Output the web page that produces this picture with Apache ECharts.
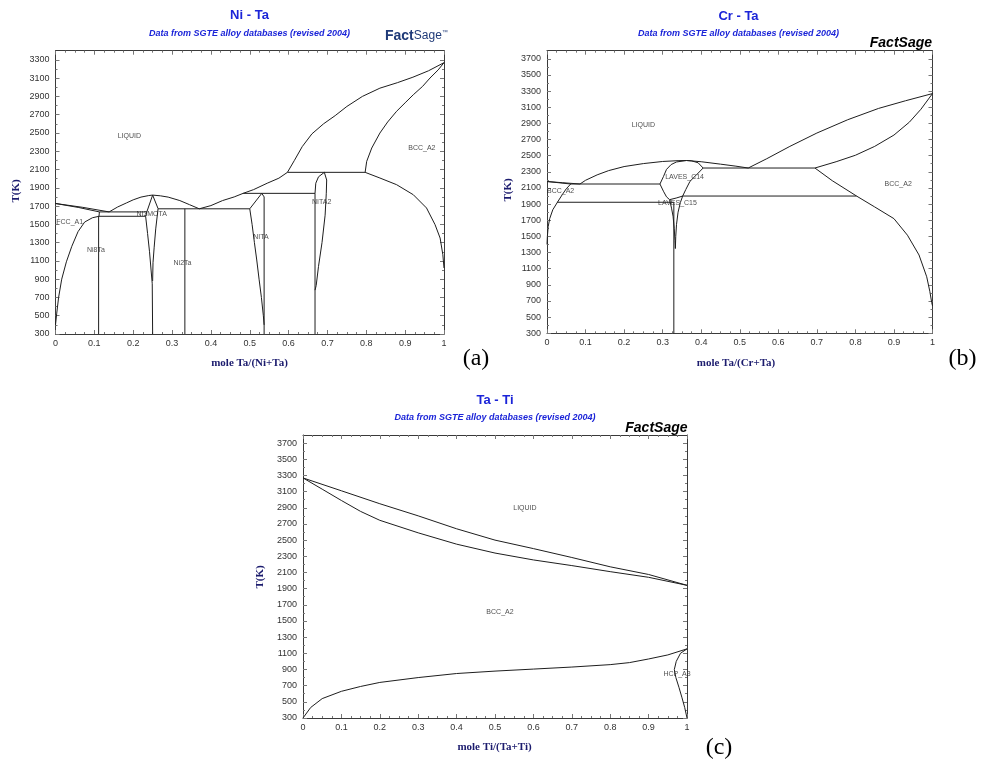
<!DOCTYPE html>
<html>
<head>
<meta charset="utf-8">
<script src="https://cdn.jsdelivr.net/npm/echarts@6/dist/echarts.min.js"></script>
<style>
  html, body { margin: 0; padding: 0; background: #fff; }
  #chart { width: 986px; height: 765px; }
</style>
</head>
<body>
<div id="chart"></div>
<script>
// ===== Ni – Ta phase boundaries: [mole fraction Ta, T(K)] =====
const niTaLiqNi      = [[0,1728],[0.07,1686],[0.138,1636]];
const niTaSolNi      = [[0,1728],[0.06,1684],[0.113,1636]];
const niTaFccSolvus  = [[0.113,1636],[0.112,1588],[0.095,1572],[0.075,1525],[0.058,1420],[0.042,1260],[0.028,1090],[0.016,900],[0.008,700],[0.003,520],[0,400]];
const niTaEutectic1  = [[0.113,1636],[0.235,1636]];
const niTaPeritectoid= [[0.111,1588],[0.232,1588]];
const niTaNi8Ta      = [[0.111,1588],[0.111,300]];
const niTaLiq2       = [[0.138,1636],[0.16,1690],[0.183,1735],[0.2,1768],[0.22,1798],[0.24,1815],[0.25,1820]];
const niTaLiq3       = [[0.25,1820],[0.27,1812],[0.29,1798],[0.32,1760],[0.345,1715],[0.37,1670]];
const niTaNi3TaLeft  = [[0.25,1820],[0.235,1636],[0.232,1588],[0.237,1400],[0.242,1200],[0.246,1000],[0.249,850]];
const niTaNi3TaRight = [[0.25,1820],[0.264,1672],[0.258,1450],[0.254,1250],[0.251,1080],[0.25,880]];
const niTaNi3TaLine  = [[0.249,850],[0.25,300]];
const niTaEutectic2  = [[0.264,1670],[0.50,1670]];
const niTaNi2Ta      = [[0.333,1670],[0.333,300]];
const niTaLiq4       = [[0.37,1670],[0.40,1705],[0.43,1760],[0.46,1800],[0.483,1839],[0.51,1880],[0.545,1950],[0.575,2005],[0.597,2069]];
const niTaNiTaLeft   = [[0.531,1839],[0.50,1670],[0.506,1500],[0.512,1300],[0.518,1110],[0.524,900],[0.530,700],[0.535,500],[0.537,400]];
const niTaNiTaRight  = [[0.531,1839],[0.537,1800],[0.537,300]];
const niTaPeritectic2= [[0.483,1839],[0.668,1839]];
const niTaNiTa2Left  = [[0.692,2069],[0.677,2020],[0.670,1950],[0.668,1839],[0.668,300]];
const niTaNiTa2Right = [[0.692,2069],[0.698,1985],[0.697,1840],[0.694,1600],[0.686,1300],[0.677,1040],[0.671,830],[0.668,780]];
const niTaPeritectic3= [[0.597,2069],[0.797,2069]];
const niTaLiqTa      = [[0.597,2069],[0.615,2200],[0.635,2350],[0.66,2490],[0.69,2600],[0.72,2690],[0.75,2790],[0.79,2900],[0.835,2990],[0.88,3050],[0.92,3110],[0.96,3180],[1,3269]];
const niTaSolTa      = [[0.797,2069],[0.801,2189],[0.814,2335],[0.835,2499],[0.855,2620],[0.878,2737],[0.9,2830],[0.921,2918],[0.945,3010],[0.964,3101],[0.985,3190],[1,3269]];
const niTaSolvusTa   = [[0.797,2069],[0.835,2007],[0.878,1934],[0.921,1824],[0.955,1679],[0.977,1496],[0.99,1350],[0.997,1168],[1,1022]];
const niTaLabels     = [[0.19,2466,'LIQUID'],[0.943,2332,'BCC_A2'],[0.104,1219,'Ni8Ta'],[0.2476,1613,'NI3MOTA'],[0.327,1073,'Ni2Ta'],[0.529,1358,'NITA'],[0.685,1741,'NITA2']];
const niTaEdgeLabels = [[0.002,1522,'FCC_A1']];

// ===== Cr – Ta phase boundaries: [mole fraction Ta, T(K)] =====
const crTaLiqCr      = [[0,2180],[0.04,2165],[0.0856,2149]];
const crTaSolCr      = [[0,2180],[0.03,2165],[0.0615,2149]];
const crTaSolvusCr   = [[0.0615,2149],[0.05,2090],[0.04,2020],[0.027,1923],[0.015,1830],[0.007,1720],[0.003,1620],[0.001,1500],[0,1400]];
const crTaEutectic1  = [[0.0615,2149],[0.293,2149]];
const crTaEutectoid  = [[0.026,1923],[0.329,1923]];
const crTaLiq1       = [[0.0856,2149],[0.10,2195],[0.13,2262],[0.16,2315],[0.2,2365],[0.25,2402],[0.3,2428],[0.34,2438],[0.362,2440],[0.40,2425],[0.45,2395],[0.49,2370],[0.522,2347]];
const crTaC14Left    = [[0.362,2440],[0.336,2422],[0.322,2390],[0.31,2330],[0.302,2240],[0.293,2149]];
const crTaC14Right   = [[0.362,2440],[0.375,2436],[0.392,2412],[0.405,2347]];
const crTaC14LowLeft = [[0.293,2149],[0.302,2060],[0.31,1990],[0.318,1955]];
const crTaC14LowRight= [[0.405,2347],[0.388,2264],[0.371,2183],[0.36,2080],[0.352,2000]];
const crTaC14C15     = [[0.318,1955],[0.335,1975],[0.352,2000]];
const crTaC15Left    = [[0.318,1955],[0.323,1850],[0.327,1750],[0.33,1600],[0.332,1450],[0.333,1350]];
const crTaC15Right   = [[0.352,2000],[0.346,1920],[0.34,1800],[0.336,1650],[0.334,1500],[0.333,1350]];
const crTaC15Line    = [[0.329,1923],[0.329,300]];
const crTaPeritectic = [[0.405,2347],[0.695,2347]];
const crTaEutectic2  = [[0.352,2000],[0.803,2000]];
const crTaLiqTa      = [[0.522,2347],[0.57,2462],[0.63,2615],[0.7,2780],[0.78,2945],[0.86,3085],[0.93,3180],[1,3269]];
const crTaSolTa      = [[0.695,2347],[0.75,2425],[0.8,2505],[0.85,2615],[0.9,2755],[0.94,2915],[0.97,3075],[1,3269]];
const crTaSolvusTa   = [[0.695,2347],[0.74,2190],[0.803,2000],[0.85,1865],[0.9,1720],[0.935,1515],[0.965,1270],[0.985,1000],[0.993,820],[0.998,680],[1,640]];
const crTaLabels     = [[0.25,2876,'LIQUID'],[0.911,2149,'BCC_A2'],[0.357,2235,'LAVES_C14'],[0.3385,1908,'LAVES_C15']];
const crTaEdgeLabels = [[0,2066,'BCC_A2']];

// ===== Ta – Ti phase boundaries: [mole fraction Ti, T(K)] =====
const taTiLiquidus   = [[0,3269],[0.1,3110],[0.2,2950],[0.3,2800],[0.4,2640],[0.5,2500],[0.6,2395],[0.7,2285],[0.8,2170],[0.9,2075],[1,1941]];
const taTiSolidus    = [[0,3269],[0.05,3130],[0.1,2990],[0.15,2855],[0.2,2745],[0.3,2590],[0.4,2450],[0.5,2340],[0.6,2255],[0.7,2185],[0.8,2110],[0.9,2040],[1,1941]];
const taTiTransus    = [[0,300],[0.02,430],[0.05,540],[0.1,630],[0.15,690],[0.2,740],[0.3,800],[0.4,850],[0.5,880],[0.6,905],[0.7,930],[0.8,960],[0.85,985],[0.9,1030],[0.95,1080],[1,1155]];
const taTiHcp        = [[1,1155],[0.983,1100],[0.972,1000],[0.967,900],[0.971,800],[0.979,680],[0.987,550],[0.994,430],[1,300]];
const taTiLabels     = [[0.578,2902,'LIQUID'],[0.513,1607,'BCC_A2'],[0.974,845,'HCP_A3']];

// Axis ranges and tick values
const xTickValues = [0,1,2,3,4,5,6,7,8,9,10].map(i => i / 10);
const xMinorValues = Array.from({length: 41}, (_, i) => i / 40).filter((_, i) => i % 4 !== 0);
function range(a, b, step) { const r = []; for (let v = a; v <= b; v += step) r.push(v); return r; }

const panels = [
  { grid: {left: 55.5, top: 50.7, width: 388.5, height: 283.3}, yMin: 300, yMax: 3400,
    yMajor: range(300, 3300, 200), yMinor: range(400, 3200, 200),
    curves: [niTaLiqNi, niTaSolNi, niTaFccSolvus, niTaEutectic1, niTaPeritectoid, niTaNi8Ta, niTaLiq2, niTaLiq3,
             niTaNi3TaLeft, niTaNi3TaRight, niTaNi3TaLine, niTaEutectic2, niTaNi2Ta, niTaLiq4, niTaNiTaLeft,
             niTaNiTaRight, niTaPeritectic2, niTaNiTa2Left, niTaNiTa2Right, niTaPeritectic3, niTaLiqTa, niTaSolTa, niTaSolvusTa],
    labels: niTaLabels, edgeLabels: niTaEdgeLabels },
  { grid: {left: 547, top: 50.7, width: 385.5, height: 282.6}, yMin: 300, yMax: 3800,
    yMajor: range(300, 3700, 200), yMinor: range(400, 3600, 200),
    curves: [crTaLiqCr, crTaSolCr, crTaSolvusCr, crTaEutectic1, crTaEutectoid, crTaLiq1, crTaC14Left, crTaC14Right,
             crTaC14LowLeft, crTaC14LowRight, crTaC14C15, crTaC15Left, crTaC15Right, crTaC15Line, crTaPeritectic,
             crTaEutectic2, crTaLiqTa, crTaSolTa, crTaSolvusTa],
    labels: crTaLabels, edgeLabels: crTaEdgeLabels },
  { grid: {left: 303, top: 435, width: 384, height: 283}, yMin: 300, yMax: 3800,
    yMajor: range(300, 3700, 200), yMinor: range(400, 3600, 200),
    curves: [taTiLiquidus, taTiSolidus, taTiTransus, taTiHcp],
    labels: taTiLabels, edgeLabels: [] }
];

const SANS = 'Liberation Sans';
const SERIF = 'Liberation Serif';
const frameColor = '#3a3a3a';
const tickColor = '#777';

const grids = [], xAxes = [], yAxes = [], series = [];

panels.forEach((p, gi) => {
  grids.push(Object.assign({containLabel: false}, p.grid));
  const xBase = {gridIndex: gi, type: 'value', min: 0, max: 1, splitLine: {show: false}};
  const yBase = {gridIndex: gi, type: 'value', min: p.yMin, max: p.yMax, splitLine: {show: false}};
  const tickLabel = {fontSize: 9, color: '#333', fontFamily: SANS};
  // four x axes: bottom major (data axis), bottom minor, top major, top minor
  ['bottom', 'top'].forEach(pos => {
    xAxes.push(Object.assign({}, xBase, {
      position: pos,
      axisLine: {show: true, onZero: false, lineStyle: {color: frameColor, width: 1}},
      axisTick: {show: true, inside: true, length: 4, customValues: xTickValues, lineStyle: {color: tickColor}},
      axisLabel: Object.assign({show: pos === 'bottom', margin: 5, customValues: xTickValues,
        formatter: v => String(Math.round(v * 10) / 10)}, tickLabel)
    }));
    xAxes.push(Object.assign({}, xBase, {
      position: pos,
      axisLine: {show: false, onZero: false},
      axisTick: {show: true, inside: true, length: 2, customValues: xMinorValues, lineStyle: {color: tickColor}},
      axisLabel: {show: false}
    }));
  });
  // four y axes: left major (data axis), left minor, right major, right minor
  ['left', 'right'].forEach(pos => {
    yAxes.push(Object.assign({}, yBase, {
      position: pos,
      axisLine: {show: true, onZero: false, lineStyle: {color: frameColor, width: 1}},
      axisTick: {show: true, inside: true, length: 4, customValues: p.yMajor, lineStyle: {color: tickColor}},
      axisLabel: Object.assign({show: pos === 'left', margin: 6, customValues: p.yMajor,
        formatter: v => String(Math.round(v))}, tickLabel)
    }));
    yAxes.push(Object.assign({}, yBase, {
      position: pos,
      axisLine: {show: false, onZero: false},
      axisTick: {show: true, inside: true, length: 2, customValues: p.yMinor, lineStyle: {color: tickColor}},
      axisLabel: {show: false}
    }));
  });

  const xi = gi * 4, yi = gi * 4;
  p.curves.forEach(c => series.push({
    type: 'line', xAxisIndex: xi, yAxisIndex: yi, data: c,
    symbol: 'none', silent: true, smooth: false,
    lineStyle: {color: '#1e1e1e', width: 1}
  }));
  const phaseLabel = {show: true, position: 'inside', formatter: q => q.data[2],
    fontSize: 7, color: '#222', fontFamily: SANS};
  series.push({
    type: 'scatter', xAxisIndex: xi, yAxisIndex: yi, data: p.labels, symbolSize: 1, silent: true, z: 5,
    itemStyle: {color: 'rgba(0,0,0,0)'}, label: phaseLabel
  });
  if (p.edgeLabels.length) series.push({
    type: 'scatter', xAxisIndex: xi, yAxisIndex: yi, data: p.edgeLabels, symbolSize: 1, silent: true, z: 5,
    itemStyle: {color: 'rgba(0,0,0,0)'}, label: Object.assign({}, phaseLabel, {align: 'left'})
  });
});

// Headings, axis names and panel letters
function txt(x, y, text, font, fill, extra) {
  return Object.assign({type: 'text', x: x, y: y, silent: true,
    style: {text: text, font: font, fill: fill, align: 'center', verticalAlign: 'middle'}}, extra || {});
}
const titleBlue = '#1b24d8';
const navy = '#1c1c6e';
const subFont = 'italic bold 9px "' + SANS + '"';
const graphics = [
  txt(249.5, 15.7, 'Ni - Ta', 'bold 13px "' + SANS + '"', titleBlue),
  txt(249.5, 33.7, 'Data from SGTE alloy databases (revised 2004)', subFont, titleBlue),
  txt(738.5, 16, 'Cr - Ta', 'bold 13px "' + SANS + '"', titleBlue),
  txt(738.5, 33.7, 'Data from SGTE alloy databases (revised 2004)', subFont, titleBlue),
  txt(495, 400.7, 'Ta - Ti', 'bold 13px "' + SANS + '"', titleBlue),
  txt(495, 418, 'Data from SGTE alloy databases (revised 2004)', subFont, titleBlue),
  {type: 'text', x: 932, y: 43, silent: true, style: {text: 'FactSage', font: 'italic bold 14px "' + SANS + '"', fill: '#000', align: 'right', verticalAlign: 'middle'}},
  {type: 'text', x: 687.5, y: 428, silent: true, style: {text: 'FactSage', font: 'italic bold 14px "' + SANS + '"', fill: '#000', align: 'right', verticalAlign: 'middle'}},
  {type: 'text', x: 385, y: 36, silent: true, style: {
    text: '{a|Fact}{b|Sage}{c|™}', align: 'left', verticalAlign: 'middle',
    rich: {
      a: {font: 'bold 14px "' + SANS + '"', fill: '#1f3a78'},
      b: {font: '12px "' + SANS + '"', fill: '#1f3a78'},
      c: {font: '6px "' + SANS + '"', fill: '#1f3a78', verticalAlign: 'top'}
    }}},
  txt(15.7, 191, 'T(K)', 'bold 11px "' + SERIF + '"', navy, {rotation: Math.PI / 2}),
  txt(508.5, 190, 'T(K)', 'bold 11px "' + SERIF + '"', navy, {rotation: Math.PI / 2}),
  txt(260, 577, 'T(K)', 'bold 11px "' + SERIF + '"', navy, {rotation: Math.PI / 2}),
  txt(249.5, 362.7, 'mole Ta/(Ni+Ta)', 'bold 11px "' + SERIF + '"', navy),
  txt(736, 362.7, 'mole Ta/(Cr+Ta)', 'bold 11px "' + SERIF + '"', navy),
  txt(494.5, 747.5, 'mole Ti/(Ta+Ti)', 'bold 11px "' + SERIF + '"', navy),
  txt(476, 359, '(a)', '24px "' + SERIF + '"', '#000'),
  txt(962.5, 359, '(b)', '24px "' + SERIF + '"', '#000'),
  txt(719, 748, '(c)', '24px "' + SERIF + '"', '#000')
];

const chart = echarts.init(document.getElementById('chart'), null, {renderer: 'canvas'});
chart.setOption({
  backgroundColor: '#ffffff',
  animation: false,
  grid: grids,
  xAxis: xAxes,
  yAxis: yAxes,
  series: series,
  graphic: graphics
});
</script>
</body>
</html>
